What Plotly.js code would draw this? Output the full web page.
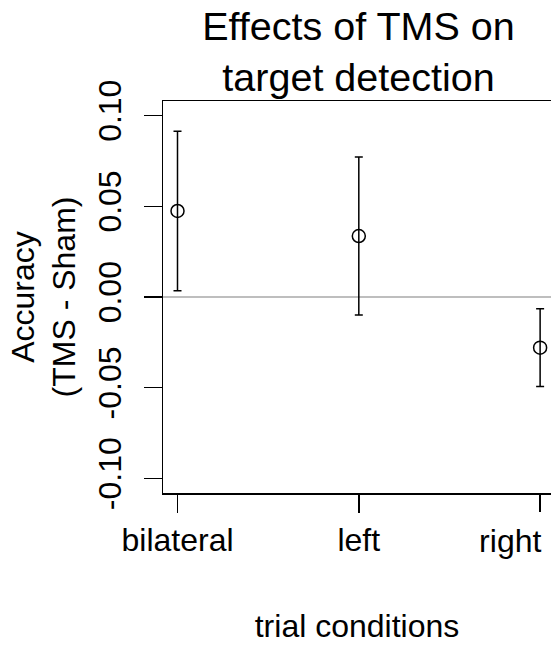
<!DOCTYPE html>
<html>
<head>
<meta charset="utf-8">
<script src="https://cdn.plot.ly/plotly-3.0.1.min.js"></script>
<style>html,body{margin:0;padding:0;background:#fff;}</style>
</head>
<body>
<div id="chart" style="width:551px;height:646px;"></div>
<script>
// Data
var categories = ["bilateral", "left", "right"];
var accuracyDiff = [0.0474, 0.0336, -0.0279];
var errHalfWidth = [0.0440, 0.0435, 0.0214];
var yTickVals = [-0.10, -0.05, 0.00, 0.05, 0.10];
var yTickText = ["-0.10", "-0.05", "0.00", "0.05", "0.10"];

var xPos = categories.map(function (c, i) { return i + 1; });
var nLast = categories.length - 1;
var FONT = "Liberation Sans, Arial, Helvetica, sans-serif";
var X_RANGE = [0.92, 3.06];

var trace = {
  type: "scatter",
  mode: "markers",
  x: xPos,
  y: accuracyDiff,
  text: categories,
  marker: {symbol: "circle-open", size: 13, color: "#000", line: {width: 1.5, color: "#000"}},
  error_y: {type: "data", array: errHalfWidth, visible: true, color: "#000", thickness: 1.5, width: 4},
  showlegend: false,
  cliponaxis: false
};

// invisible carrier so the overlaid axis for the last category label is drawn
var carrier = {
  type: "scatter",
  mode: "markers",
  x: xPos.slice(nLast),
  y: accuracyDiff.slice(nLast),
  xaxis: "x2",
  yaxis: "y",
  marker: {size: 1, opacity: 0},
  hoverinfo: "skip",
  showlegend: false
};

var layout = {
  width: 551,
  height: 646,
  paper_bgcolor: "#fff",
  plot_bgcolor: "#fff",
  font: {family: FONT, size: 32, color: "#000"},
  margin: {l: 162.5, r: 0, t: 101, b: 153, pad: 0},
  title: {
    text: "Effects of TMS on<br>target detection",
    font: {family: FONT, size: 39.5, color: "#000"},
    xref: "container", x: 358.5 / 551, xanchor: "center",
    yref: "container", y: 1 - 40 / 646, yanchor: "top"
  },
  xaxis: {
    range: X_RANGE,
    tickmode: "array",
    tickvals: xPos.slice(0, nLast),
    ticktext: categories.slice(0, nLast),
    showline: true, mirror: true, linecolor: "#000", linewidth: 1.5,
    ticks: "outside", ticklen: 18, tickwidth: 1.5, tickcolor: "#000",
    showgrid: false, zeroline: false,
    tickfont: {family: FONT, size: 32, color: "#000"},
    title: {text: "trial conditions", font: {family: FONT, size: 32, color: "#000"}, standoff: 57}
  },
  // last category: its label sits to the left of its tick in the reference
  xaxis2: {
    overlaying: "x",
    anchor: "y",
    side: "bottom",
    range: X_RANGE,
    tickmode: "array",
    tickvals: xPos.slice(nLast),
    ticktext: categories.slice(nLast),
    ticklabelposition: "outside left",
    ticklabelstandoff: 20,
    ticklabelshift: 2,
    showline: false,
    ticks: "outside", ticklen: 18, tickwidth: 1.5, tickcolor: "#000",
    showgrid: false, zeroline: false,
    tickfont: {family: FONT, size: 32, color: "#000"}
  },
  yaxis: {
    range: [-0.108, 0.108],
    tickmode: "array",
    tickvals: yTickVals,
    ticktext: yTickText,
    tickangle: -90,
    ticklabelstandoff: 10,
    showline: true, mirror: false, linecolor: "#000", linewidth: 1.5,
    ticks: "outside", ticklen: 18, tickwidth: 1.5, tickcolor: "#000",
    showgrid: false,
    zeroline: true, zerolinecolor: "#bebebe", zerolinewidth: 1.5,
    tickfont: {family: FONT, size: 32, color: "#000"},
    title: {text: "Accuracy<br>(TMS - Sham)", font: {family: FONT, size: 32, color: "#000"}, standoff: 6}
  }
};

Plotly.newPlot("chart", [trace, carrier], layout, {staticPlot: true, displayModeBar: false});
</script>
</body>
</html>
